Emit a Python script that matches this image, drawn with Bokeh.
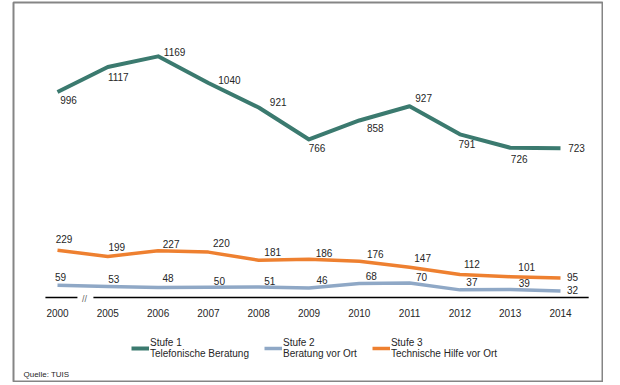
from bokeh.plotting import figure
from bokeh.models import Range1d, FixedTicker, Legend, LegendItem, Label, ColumnDataSource
from bokeh.embed import file_html
from bokeh.resources import INLINE
from bokeh.core.properties import value

# ---- data ----
years = ["2000", "2005", "2006", "2007", "2008", "2009", "2010", "2011", "2012", "2013", "2014"]
stufe1 = [996, 1117, 1169, 1040, 921, 766, 858, 927, 791, 726, 723]
stufe2 = [59, 53, 48, 50, 51, 46, 68, 70, 37, 39, 32]
stufe3 = [229, 199, 227, 220, 181, 186, 176, 147, 112, 101, 95]
series_names = ["Stufe 1\nTelefonische Beratung", "Stufe 2\nBeratung vor Ort", "Stufe 3\nTechnische Hilfe vor Ort"]
source_note = "Quelle: TUIS"

# ---- label nudges (pixels) ----
s1_dx = [11, 10.5, 16.5, 21, 19.5, 8, 16, 14, 7, 9, 16]
s1_dy = [7.5, 10, -4, -3, -5, 8.5, 7.5, -8, 10, 11.5, 0]
s2_dx = [3, 6, 10, 11, 11, 13, 12, 12, 12, 14, 12]
s2_dy = [-8, -8, -10, -6, -6, -8, -7, -6, -8, -6.5, -0.5]
s3_dx = [6.5, 9, 13, 13, 14, 15, 16, 13, 12, 16.5, 12]
s3_dy = [-11, -9.5, -7, -9, -8, -6, -7, -9, -10, -10, -1]

C1 = "#3b7a6f"
C2 = "#8fa8c6"
C3 = "#ee8030"
FONT = "Liberation Sans"
TXT = "#262626"

xs = list(range(len(years)))

# layout geometry (pixels)
W, H = 603, 382
ML, MR, MT, MB = 13, 0, 2, 0
PX_X = 50.3      # pixels per category step
PX_Y = 0.2063    # pixels per unit
frame_w = W - ML - MR
frame_h = H - MT - MB
x0 = -44 / PX_X
y1 = 295 / PX_Y

p = figure(width=W, height=H,
           x_range=Range1d(x0, x0 + frame_w / PX_X), y_range=Range1d(y1 - frame_h / PX_Y, y1),
           output_backend="svg", toolbar_location=None, y_axis_location=None,
           min_border_left=ML, min_border_right=MR, min_border_top=MT, min_border_bottom=MB)
p.outline_line_color = "#858585"
p.outline_line_width = 2
p.xgrid.visible = False
p.ygrid.visible = False
p.background_fill_color = "white"
p.border_fill_color = "white"

ax = p.xaxis[0]
ax.fixed_location = 0
ax.ticker = FixedTicker(ticks=xs)
ax.major_label_overrides = {i: y for i, y in zip(xs, years)}
ax.axis_line_color = None
ax.major_tick_line_color = None
ax.minor_tick_line_color = None
ax.major_label_text_font = FONT
ax.major_label_text_font_size = "10px"
ax.major_label_text_color = TXT
ax.major_label_standoff = 5

# broken baseline
p.segment(x0=[-0.24, 0.714], y0=[0, 0], x1=[0.396, 10.56], y1=[0, 0], line_color="black", line_width=1.3)
p.text(x=[0.535], y=[0], text=["//"], text_font=value(FONT), text_font_size="9px",
       text_color="#666666", text_align="center", text_baseline="middle", y_offset=1)

renderers = []
for vals, col, lw, dx, dy in [(stufe1, C1, 4, s1_dx, s1_dy),
                              (stufe2, C2, 3.5, s2_dx, s2_dy),
                              (stufe3, C3, 3.5, s3_dx, s3_dy)]:
    src = ColumnDataSource(dict(x=xs, y=vals, t=[str(v) for v in vals], dx=dx, dy=dy))
    r = p.line("x", "y", source=src, line_color=col, line_width=lw, line_join="round")
    renderers.append(r)
    p.text("x", "y", text="t", source=src, x_offset="dx", y_offset="dy",
           text_font=value(FONT), text_font_size="10px", text_color=TXT,
           text_align="center", text_baseline="middle")

legend = Legend(items=[LegendItem(label=n, renderers=[r]) for n, r in zip(series_names, renderers)],
                location=(118, 23), orientation="horizontal",
                glyph_width=18, glyph_height=12, label_standoff=1, spacing=15,
                padding=0, margin=0, border_line_color=None, background_fill_alpha=0,
                label_text_font=FONT, label_text_font_size="10px", label_text_color=TXT,
                label_text_line_height=1.1)
p.add_layout(legend, "center")

p.add_layout(Label(x=10, y=4, x_units="screen", y_units="screen", text=source_note,
                   text_font=FONT, text_font_size="8px", text_color=TXT, text_baseline="bottom"))

open("out.html", "w").write(file_html(p, INLINE))
